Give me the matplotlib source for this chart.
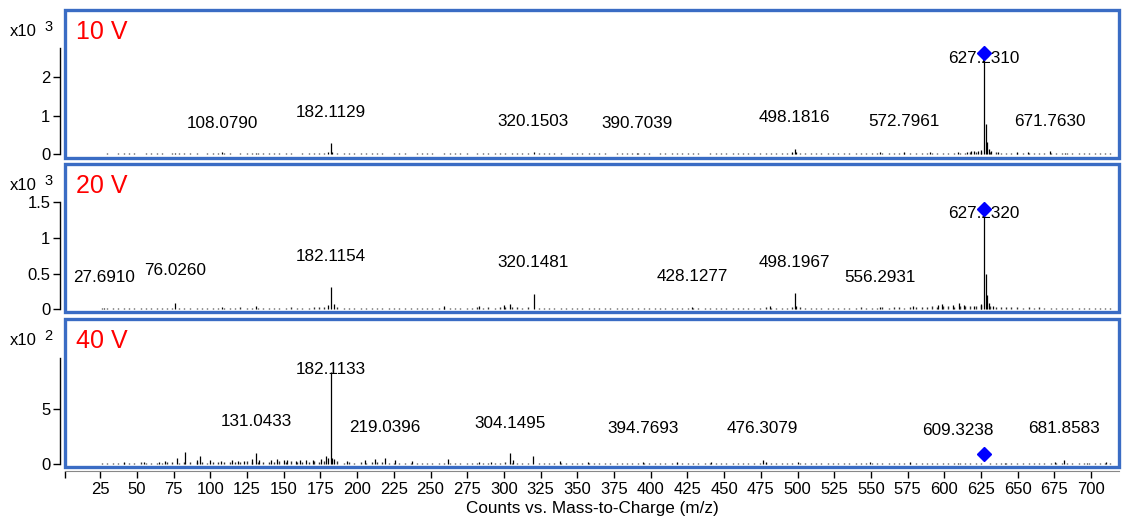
import matplotlib
matplotlib.use('Agg')
import matplotlib.pyplot as plt
from matplotlib.patches import Rectangle
from matplotlib.ticker import FuncFormatter

plt.rcParams['font.family'] = ['Liberation Sans', 'DejaVu Sans']

W, H = 1125, 522
BLUE = '#3a6cc4'
PRECURSOR = 627.23

# baseline noise positions (m/z), shared by all three spectra
noise_mz = [
    26.1, 29.8, 33.5, 37.0, 41.2, 44.9, 48.3, 52.6, 56.1, 59.7,
    63.4, 67.0, 70.5, 74.2, 78.9, 82.4, 86.1, 90.7, 94.3, 97.8,
    101.5, 105.1, 109.6, 113.2, 116.8, 120.4, 124.9, 128.3, 132.7, 136.2,
    139.9, 143.5, 147.1, 151.6, 155.2, 158.8, 162.3, 166.9, 170.4, 174.1,
    177.6, 186.3, 190.8, 194.4, 198.1, 202.7, 206.2, 209.9, 213.5, 217.0,
    221.6, 225.3, 228.8, 232.4, 236.9, 240.5, 244.1, 247.8, 251.3, 255.9,
    259.4, 263.0, 266.7, 270.2, 274.8, 278.3, 281.9, 285.6, 289.1, 293.7,
    297.2, 300.8, 305.4, 308.9, 312.5, 316.1, 323.6, 327.2, 330.7, 334.4,
    338.9, 342.5, 346.1, 349.7, 353.2, 357.8, 361.3, 364.9, 368.6, 372.1,
    376.7, 380.2, 383.8, 387.5, 391.0, 395.6, 399.1, 402.7, 406.4, 409.9,
    414.5, 418.0, 421.6, 425.3, 428.8, 432.4, 436.9, 440.5, 444.2, 447.7,
    451.3, 455.8, 459.4, 463.1, 466.6, 470.2, 474.7, 478.3, 482.0, 485.5,
    489.1, 492.6, 496.2, 501.8, 505.3, 508.9, 512.6, 516.1, 520.7, 524.2,
    527.8, 531.5, 535.0, 539.6, 543.1, 546.7, 550.4, 553.9, 557.5, 562.0,
    565.6, 569.3, 572.8, 576.4, 580.9, 584.5, 588.2, 591.7, 595.3, 598.8,
    602.4, 606.9, 610.5, 614.2, 617.7, 621.3, 624.8, 631.4, 634.9, 638.5,
    642.2, 645.7, 649.3, 653.8, 657.4, 661.1, 664.6, 668.2, 672.7, 676.3,
    680.0, 683.5, 687.1, 691.6, 695.2, 698.9, 702.4, 706.0, 709.5, 713.1,
]

# ---- 10 V (counts)
noise_10v = [
    20, 25, 18, 30, 22, 28, 24, 19, 26, 21,
    23, 27, 20, 31, 25, 22, 29, 24, 20, 26,
    22, 28, 35, 24, 19, 27, 23, 30, 25, 21,
    26, 22, 29, 24, 31, 20, 27, 33, 25, 38,
    45, 40, 28, 24, 30, 22, 26, 21, 27, 24,
    20, 25, 22, 28, 19, 24, 21, 26, 23, 20,
    25, 22, 27, 21, 24, 20, 26, 23, 28, 22,
    25, 30, 24, 27, 22, 35, 28, 24, 21, 26,
    23, 20, 25, 22, 27, 21, 24, 26, 22, 20,
    24, 21, 26, 23, 28, 22, 25, 20, 27, 23,
    21, 26, 24, 22, 28, 25, 20, 27, 23, 30,
    24, 28, 22, 26, 25, 30, 24, 32, 27, 25,
    30, 28, 40, 35, 26, 24, 29, 22, 27, 25,
    28, 24, 30, 26, 32, 25, 28, 35, 29, 38,
    30, 34, 28, 45, 32, 36, 30, 40, 35, 38,
    42, 36, 45, 40, 55, 60, 65, 58, 50, 44,
    40, 36, 32, 30, 28, 34, 30, 26, 32, 28,
    30, 26, 24, 28, 22, 25, 23, 26, 21, 24,
]
peaks_10v_mz = [76.03, 108.08, 131.04, 180.10, 182.11, 183.12, 320.15, 390.70, 496.2, 498.18,
                499.19, 556.3, 572.80, 590.3, 609.32, 615.2, 618.3, 620.2, 623.1, 625.2,
                627.23, 628.23, 629.24, 630.2, 632.1, 636.4, 649.6, 656.8, 671.76, 681.9]
peaks_10v_h = [45, 50, 40, 55, 300, 70, 55, 45, 50, 130,
               60, 50, 60, 55, 70, 65, 80, 75, 95, 110,
               2620, 780, 330, 150, 90, 70, 55, 50, 85, 45]
labels_10v = ['108.0790', '182.1129', '320.1503', '390.7039', '498.1816',
              '572.7961', '627.2310', '671.7630']
labels_10v_y = [800, 1090, 840, 800, 950, 850, 2490, 850]

# ---- 20 V (counts)
noise_20v = [
    15, 18, 14, 20, 16, 19, 15, 22, 17, 18,
    20, 17, 22, 19, 24, 21, 18, 23, 19, 17,
    20, 24, 18, 22, 19, 25, 21, 18, 23, 20,
    22, 19, 24, 20, 26, 21, 23, 19, 25, 28,
    32, 30, 24, 20, 22, 18, 21, 17, 20, 18,
    16, 19, 15, 18, 14, 17, 15, 19, 16, 18,
    17, 20, 16, 19, 22, 18, 25, 20, 30, 24,
    28, 35, 30, 25, 22, 30, 24, 20, 18, 22,
    17, 15, 19, 16, 18, 15, 17, 14, 18, 16,
    15, 18, 16, 19, 17, 15, 18, 16, 14, 17,
    16, 19, 17, 15, 22, 18, 16, 19, 17, 20,
    18, 22, 19, 24, 20, 23, 19, 25, 21, 22,
    24, 20, 28, 26, 22, 19, 21, 18, 22, 19,
    20, 23, 19, 22, 25, 21, 24, 20, 26, 23,
    25, 28, 24, 30, 27, 35, 30, 40, 36, 45,
    42, 38, 50, 45, 40, 48, 55, 42, 36, 32,
    28, 25, 30, 24, 27, 22, 26, 21, 24, 20,
    22, 19, 21, 18, 20, 17, 19, 16, 18, 17,
]
peaks_20v_mz = [27.69, 76.03, 108.1, 131.0, 180.1, 182.12, 184.1, 259.1, 283.0, 300.2,
                304.1, 320.15, 428.13, 481.3, 498.20, 499.2, 556.29, 579.0, 595.5, 598.3,
                606.2, 610.0, 613.4, 620.5, 624.8, 627.23, 628.23, 629.24, 630.2, 633.5]
peaks_20v_h = [20, 85, 30, 40, 60, 310, 70, 40, 50, 60,
               70, 210, 30, 40, 225, 40, 30, 45, 60, 75,
               55, 85, 60, 50, 70, 1410, 500, 200, 90, 40]
labels_20v = ['27.6910', '76.0260', '182.1154', '320.1481', '428.1277',
              '498.1967', '556.2931', '627.2320']
labels_20v_y = [440, 540, 740, 650, 460, 660, 450, 1340]

# ---- 40 V (counts)
noise_40v = [
    12, 14, 10, 15, 13, 16, 12, 18, 14, 15,
    16, 14, 18, 20, 15, 22, 17, 24, 19, 16,
    22, 18, 25, 20, 24, 19, 26, 21, 23, 18,
    24, 20, 26, 22, 28, 21, 25, 19, 27, 23,
    30, 28, 16, 20, 14, 18, 15, 22, 17, 20,
    12, 15, 11, 14, 13, 10, 16, 12, 14, 11,
    15, 12, 14, 11, 13, 10, 12, 14, 16, 13,
    14, 18, 15, 12, 14, 16, 12, 10, 13, 11,
    10, 12, 9, 11, 10, 12, 9, 11, 8, 10,
    9, 11, 10, 12, 9, 13, 10, 8, 11, 9,
    10, 8, 11, 9, 12, 10, 8, 11, 9, 10,
    9, 11, 10, 8, 12, 14, 10, 12, 9, 11,
    10, 12, 9, 13, 10, 8, 11, 9, 10, 8,
    9, 11, 8, 10, 12, 9, 11, 10, 13, 9,
    11, 10, 12, 9, 11, 8, 10, 12, 9, 11,
    10, 12, 9, 11, 10, 12, 9, 10, 8, 11,
    9, 10, 8, 11, 9, 10, 12, 9, 11, 14,
    10, 9, 11, 8, 10, 9, 12, 10, 9, 11,
]
peaks_40v_mz = [41.0, 55.1, 65.0, 69.1, 77.04, 82.5, 91.05, 93.07, 99.5, 107.1,
                115.05, 119.1, 122.6, 128.06, 131.04, 133.1, 141.1, 145.1, 150.1, 152.1,
                158.1, 161.1, 165.1, 170.1, 175.1, 178.5, 180.1, 182.11, 183.12, 184.1,
                193.1, 205.1, 212.1, 219.04, 226.1, 237.1, 262.1, 283.0, 291.1, 304.15,
                306.1, 320.1, 338.3, 357.1, 394.77, 418.2, 441.2, 476.31, 478.2, 500.3,
                549.2, 576.3, 609.32, 641.2, 675.3, 681.86, 697.4, 710.3]
peaks_40v_h = [20, 22, 25, 28, 55, 110, 40, 75, 35, 30,
               35, 30, 28, 45, 105, 40, 35, 45, 35, 40,
               30, 35, 40, 35, 45, 80, 60, 840, 55, 50,
               30, 35, 50, 60, 35, 30, 45, 25, 25, 100,
               35, 75, 30, 25, 25, 20, 22, 35, 20, 18,
               20, 18, 15, 15, 20, 40, 15, 18]
labels_40v = ['131.0433', '182.1133', '219.0396', '304.1495', '394.7693',
              '476.3079', '609.3238', '681.8583']
labels_40v_y = [390, 860, 335, 370, 320, 320, 305, 320]

# precursor marker heights (counts)
diamond_y = [2630, 1410, 90]

x_ticks = list(range(25, 701, 25))

panels = [
    dict(name='10 V', scale=1000, exp='3', noise=noise_10v, mz=peaks_10v_mz, h=peaks_10v_h,
         labels=labels_10v, label_y=labels_10v_y, yticks=[0, 1, 2], ylim=(-0.083, 3.76),
         ytop=2.75, px=(9.5, 157.5)),
    dict(name='20 V', scale=1000, exp='3', noise=noise_20v, mz=peaks_20v_mz, h=peaks_20v_h,
         labels=labels_20v, label_y=labels_20v_y, yticks=[0, 0.5, 1, 1.5], ylim=(-0.038, 2.04),
         ytop=1.5, px=(163.5, 312)),
    dict(name='40 V', scale=100, exp='2', noise=noise_40v, mz=peaks_40v_mz, h=peaks_40v_h,
         labels=labels_40v, label_y=labels_40v_y, yticks=[0, 5], ylim=(-0.24, 13.2),
         ytop=9.6, px=(318.5, 467)),
]

L, R = 65, 1119
fig = plt.figure(figsize=(W / 100, H / 100), dpi=100)

for i, p in enumerate(panels):
    top, bot = p['px']
    ax = fig.add_axes([L / W, 1 - bot / H, (R - L) / W, (bot - top) / H])
    s = p['scale']
    ax.vlines(noise_mz, 0, [v / s for v in p['noise']], color='#333333', lw=1.0)
    ax.vlines(p['mz'], 0, [v / s for v in p['h']], color='black', lw=0.9)
    for txt, y in zip(p['labels'], p['label_y']):
        ax.text(float(txt), y / s, txt, ha='center', va='center', fontsize=12.3, zorder=4)
    ax.plot(PRECURSOR, diamond_y[i] / s, 'D', color='#0000ff', ms=7, zorder=5)

    ax.set_xlim(1, 719)
    ax.set_ylim(*p['ylim'])
    ax.set_yticks(p['yticks'])
    ax.yaxis.set_major_formatter(FuncFormatter(lambda v, _: f'{v:g}'))
    ax.tick_params(axis='y', length=5, width=1, pad=2, labelsize=12)

    for side in ['top', 'right', 'bottom']:
        ax.spines[side].set_visible(False)
    ax.spines['left'].set_position(('outward', 3.5))
    ax.spines['left'].set_bounds(0, p['ytop'])
    ax.spines['left'].set_linewidth(1.0)

    ax.add_patch(Rectangle((0, 0), 1, 1, transform=ax.transAxes, fill=False,
                           ec=BLUE, lw=2.4, clip_on=False, zorder=6))

    if i == 2:
        ax.spines['bottom'].set_visible(True)
        ax.spines['bottom'].set_position(('outward', 3))
        ax.spines['bottom'].set_color('#888888')
        ax.spines['bottom'].set_linewidth(0.8)
        ax.set_xticks([1] + x_ticks, labels=[''] + [str(t) for t in x_ticks])
        ax.tick_params(axis='x', length=5, width=1, pad=3, labelsize=12)
    else:
        ax.set_xticks([])

    fig.text(10 / W, 1 - (top + 22) / H, 'x10', ha='left', va='center', fontsize=12)
    fig.text(44 / W, 1 - (top + 17.5) / H, p['exp'], ha='left', va='center', fontsize=10.5)
    fig.text(76 / W, 1 - (top + 22.5) / H, p['name'], ha='left', va='center',
             color='red', fontsize=18)

fig.text((L + R) / 2 / W, 1 - 509 / H, 'Counts vs. Mass-to-Charge (m/z)',
         ha='center', va='center', fontsize=12.3)

fig.savefig('out.png', dpi=100)
plt.close(fig)
